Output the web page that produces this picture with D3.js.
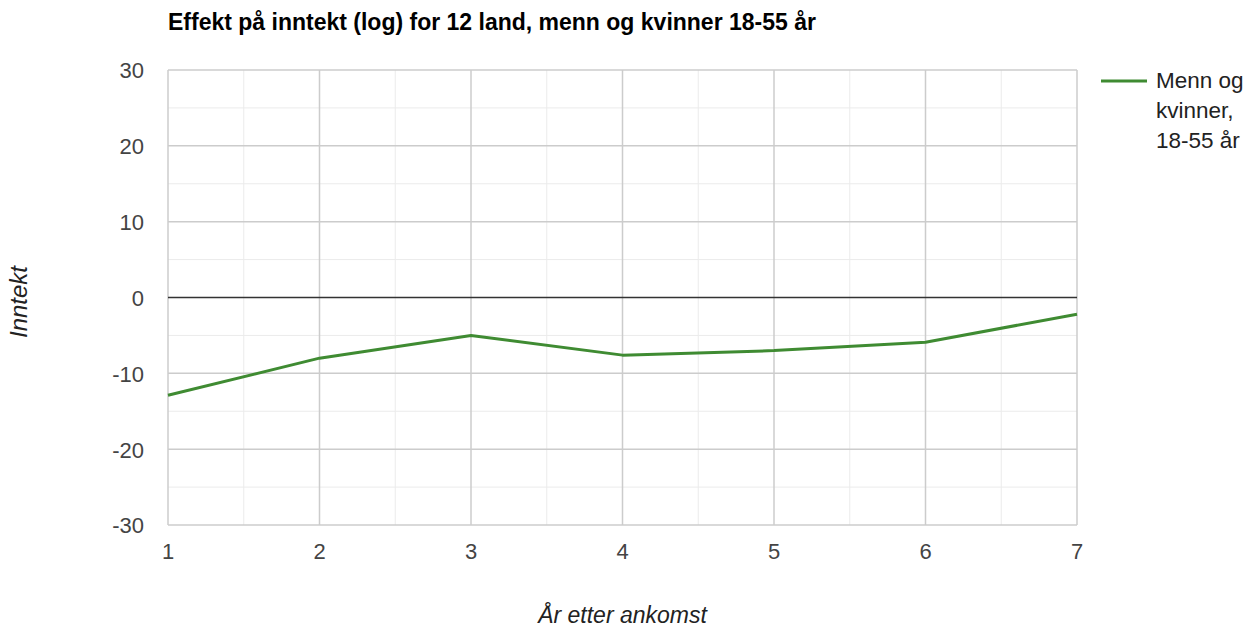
<!DOCTYPE html>
<html>
<head>
<meta charset="utf-8">
<script src="https://cdn.jsdelivr.net/npm/d3@7"></script>
<style>
  body { margin: 0; background: #fff; }
  text { font-family: Arial, "Liberation Sans", sans-serif; }
</style>
</head>
<body>
<div id="container"></div>
<script>
// data
var years = [1, 2, 3, 4, 5, 6, 7];
var effect = [-12.9, -8.0, -5.0, -7.6, -7.0, -5.9, -2.2];
var yTicks = [-30, -20, -10, 0, 10, 20, 30];
var yMinor = [-25, -15, -5, 5, 15, 25];
var xMinor = [1.5, 2.5, 3.5, 4.5, 5.5, 6.5];
var seriesName = ["Menn og", "kvinner,", "18-55 år"];

var W = 1253, H = 627;
var margin = {top: 70, right: 176, bottom: 102, left: 168};
var width = W - margin.left - margin.right,
    height = H - margin.top - margin.bottom;

var svg = d3.select("#container").append("svg")
    .attr("width", W).attr("height", H);

var g = svg.append("g")
    .attr("transform", "translate(" + margin.left + "," + margin.top + ")");

var x = d3.scaleLinear().domain([1, 7]).range([0, width]);
var y = d3.scaleLinear().domain([-30, 30]).range([height, 0]);

// minor grid
g.selectAll(".ymin").data(yMinor).enter().append("line")
    .attr("x1", 0).attr("x2", width)
    .attr("y1", function(d){ return y(d); }).attr("y2", function(d){ return y(d); })
    .attr("stroke", "#ebebeb").attr("stroke-width", 1);
g.selectAll(".xmin").data(xMinor).enter().append("line")
    .attr("y1", 0).attr("y2", height)
    .attr("x1", function(d){ return x(d); }).attr("x2", function(d){ return x(d); })
    .attr("stroke", "#ebebeb").attr("stroke-width", 1);

// major grid
g.selectAll(".ymaj").data(yTicks.filter(function(d){ return d != 0; })).enter().append("line")
    .attr("x1", 0).attr("x2", width)
    .attr("y1", function(d){ return y(d); }).attr("y2", function(d){ return y(d); })
    .attr("stroke", "#cccccc").attr("stroke-width", 1.5);
g.selectAll(".xmaj").data(years).enter().append("line")
    .attr("y1", 0).attr("y2", height)
    .attr("x1", function(d){ return x(d); }).attr("x2", function(d){ return x(d); })
    .attr("stroke", "#cccccc").attr("stroke-width", 1.5);

// zero line
g.append("line")
    .attr("x1", 0).attr("x2", width)
    .attr("y1", y(0)).attr("y2", y(0))
    .attr("stroke", "#333").attr("stroke-width", 1.5);

// tick labels
g.selectAll(".ylab").data(yTicks).enter().append("text")
    .attr("x", -24).attr("y", function(d){ return y(d); })
    .attr("dy", "0.38em")
    .attr("text-anchor", "end")
    .attr("font-size", "22px").attr("fill", "#444")
    .text(function(d){ return d; });
g.selectAll(".xlab").data(years).enter().append("text")
    .attr("x", function(d){ return x(d); }).attr("y", height + 34)
    .attr("text-anchor", "middle")
    .attr("font-size", "22px").attr("fill", "#444")
    .text(function(d){ return d; });

// series line
var line = d3.line()
    .x(function(d, i){ return x(years[i]); })
    .y(function(d){ return y(d); });
g.append("path")
    .datum(effect)
    .attr("d", line)
    .attr("fill", "none")
    .attr("stroke", "#3f8b32")
    .attr("stroke-width", 3)
    .attr("stroke-linejoin", "round");

// title
svg.append("text")
    .attr("x", 168).attr("y", 30)
    .attr("font-size", "23px").attr("font-weight", "bold").attr("fill", "#000")
    .text("Effekt på inntekt (log) for 12 land, menn og kvinner 18-55 år");

// axis titles
svg.append("text")
    .attr("transform", "translate(27,302) rotate(-90)")
    .attr("text-anchor", "middle")
    .attr("font-size", "24px").attr("font-style", "italic").attr("fill", "#222")
    .text("Inntekt");
svg.append("text")
    .attr("x", margin.left + width / 2).attr("y", 623)
    .attr("text-anchor", "middle")
    .attr("font-size", "23px").attr("font-style", "italic").attr("fill", "#222")
    .text("År etter ankomst");

// legend
var lg = svg.append("g").attr("transform", "translate(1101,81)");
lg.append("line").attr("x1", 0).attr("x2", 46).attr("y1", 0).attr("y2", 0)
    .attr("stroke", "#3f8b32").attr("stroke-width", 3);
lg.selectAll("text").data(seriesName).enter().append("text")
    .attr("x", 55).attr("y", function(d, i){ return 7 + i * 30; })
    .attr("font-size", "22.5px").attr("fill", "#222")
    .text(function(d){ return d; });
</script>
</body>
</html>
